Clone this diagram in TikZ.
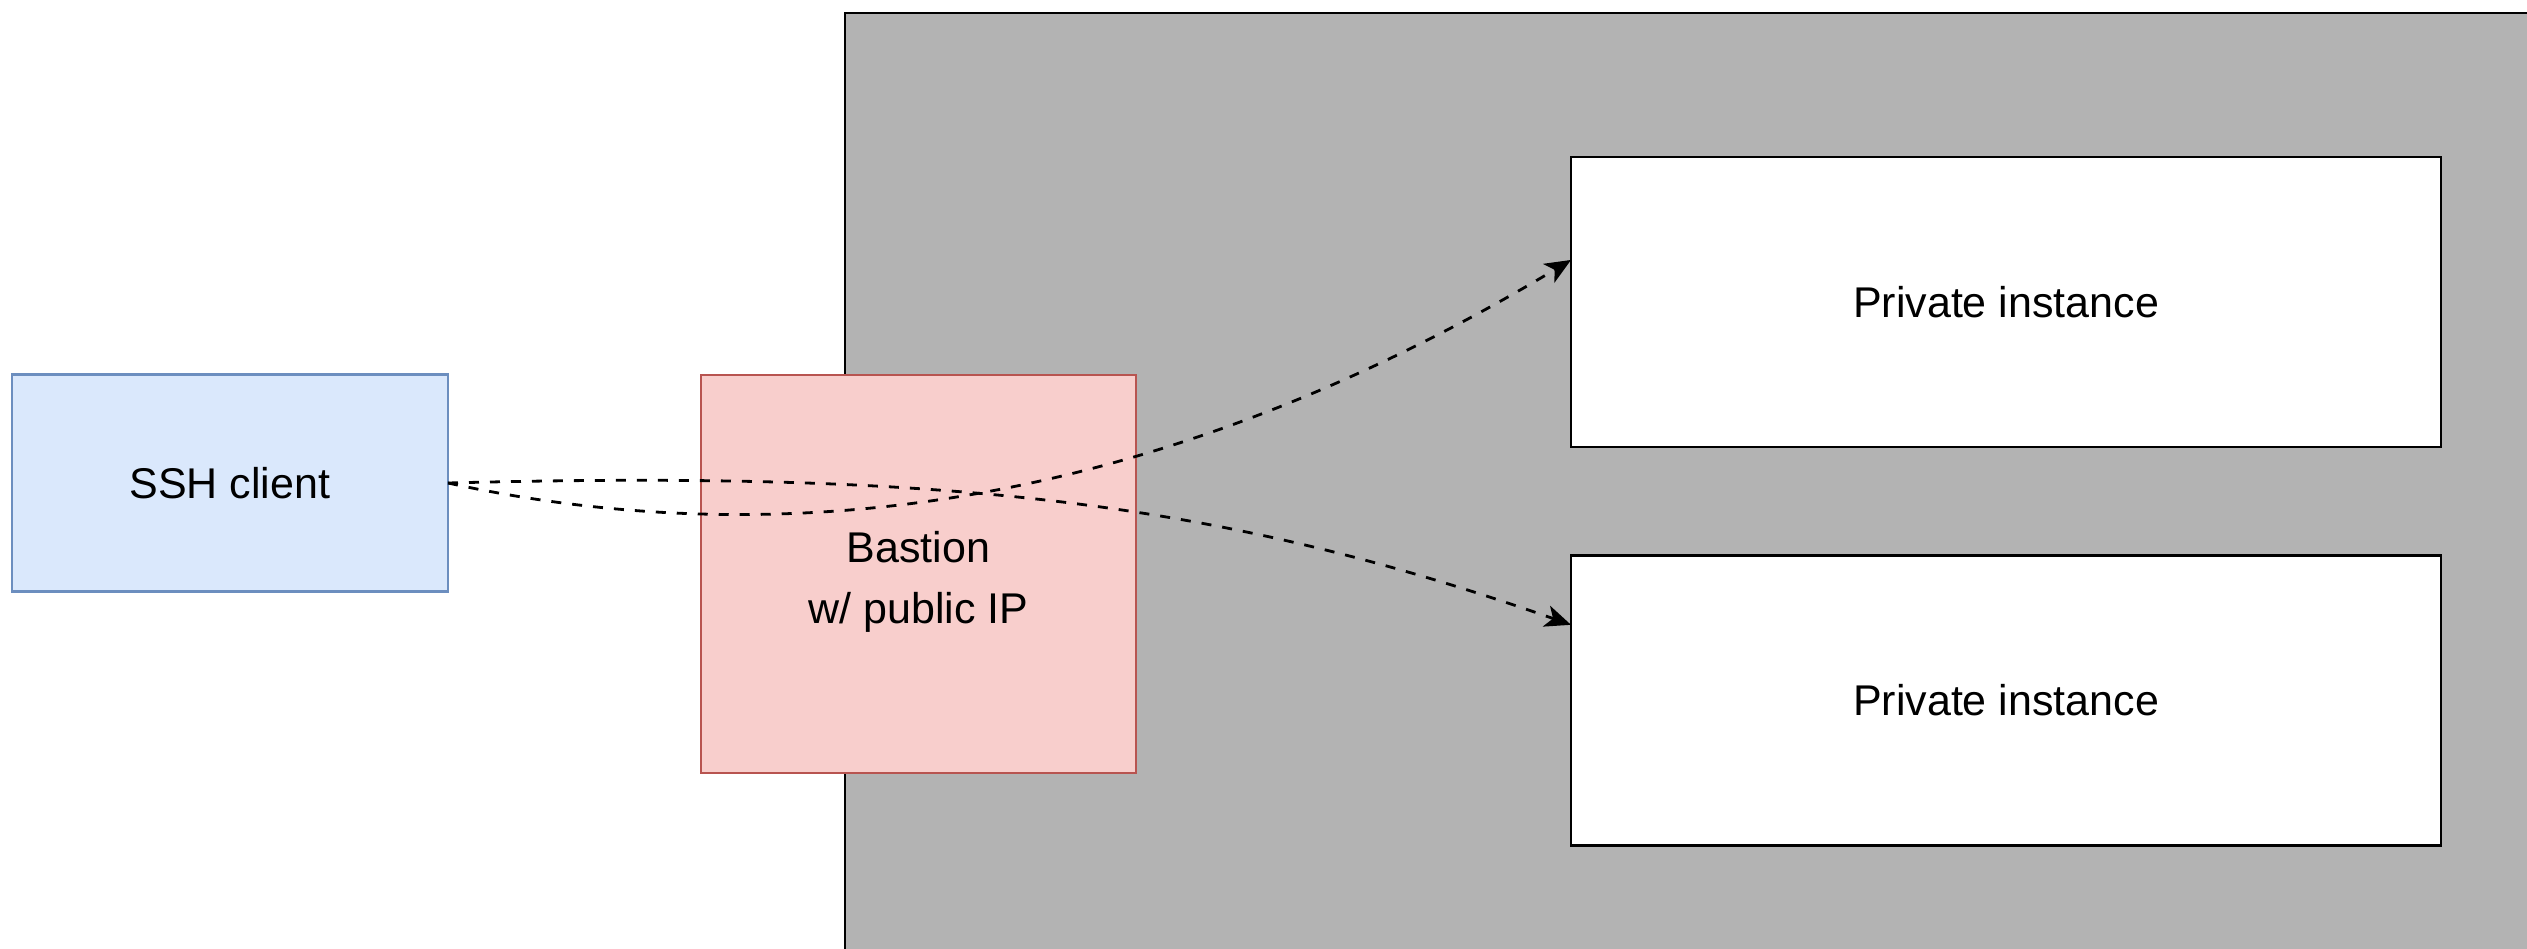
\documentclass[tikz,border=0pt]{standalone}
\usepackage{fontspec}
\setmainfont{Liberation Sans}
\usetikzlibrary{arrows.meta,calc}
\definecolor{vpcgray}{HTML}{B3B3B3}
\definecolor{sshfill}{HTML}{DAE8FC}
\definecolor{sshline}{HTML}{6C8EBF}
\definecolor{bfill}{HTML}{F8CECC}
\definecolor{bline}{HTML}{B85450}
\tikzset{
  labelfont/.style={font=\fontsize{21.5pt}{30.5pt}\selectfont},
  box/.style={rectangle, inner sep=0pt, outer sep=0pt, line width=1.4pt, align=center, labelfont},
  sshbox/.style={box, draw=sshline, fill=sshfill, minimum width=218pt, minimum height=108.5pt},
  bastionbox/.style={box, draw=bline, fill=bfill, minimum width=217.5pt, minimum height=199pt},
  instbox/.style={box, draw=black, fill=white, minimum width=435pt, minimum height=145pt},
  conn/.style={line width=1.4pt, dash pattern=on 5pt off 5.5pt, -{Stealth[length=13pt,width=11pt,inset=3.5pt]}}
}
\begin{document}
\begin{tikzpicture}[x=0.5pt, y=-0.5pt]
\clip (0,0) rectangle (2527,948);
\fill[white] (0,0) rectangle (2527,948);
\draw[line width=1.4pt, fill=vpcgray] (845,13) rectangle (2600,1000);
\node[bastionbox, label={[labelfont, align=center, yshift=-4pt]center:Bastion\\w/ public IP}] (bastion) at (918.5,574) {};
\node[sshbox] (ssh) at (230,483) {SSH client};
\node[instbox] (inst1) at (2006,302) {Private instance};
\node[instbox] (inst2) at (2006,700.5) {Private instance};
\coordinate (t1) at ($(inst1.north west)!0.355!(inst1.south west)$);
\coordinate (t2) at ($(inst2.north west)!0.239!(inst2.south west)$);
\draw[conn] (ssh.east) .. controls +(400,87) and +(-350,210) .. (t1);
\draw[conn] (ssh.east) .. controls +(500,-13) and +(-350,-123) .. (t2);
\end{tikzpicture}
\end{document}
